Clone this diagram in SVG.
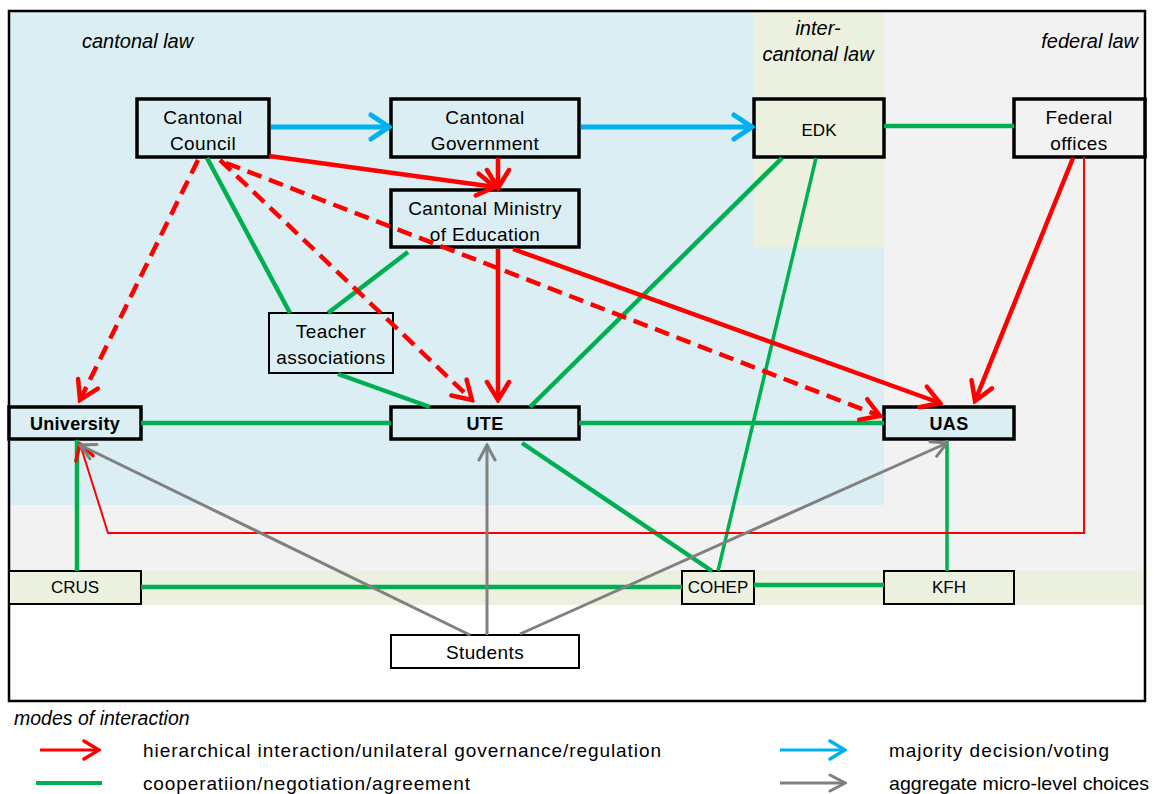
<svg xmlns="http://www.w3.org/2000/svg" width="1154" height="794" viewBox="0 0 1154 794">
<defs>
<style>
text{font-family:"Liberation Sans",Arial,sans-serif;fill:#000;}
.lbl{font-size:19px;text-anchor:middle;letter-spacing:0.4px;}
.sm{font-size:17px;letter-spacing:0;}
.b{font-weight:bold;font-size:18px;letter-spacing:0.3px;}
.it{font-style:italic;font-size:20px;}
.leg{font-size:19px;}
.box{stroke:#000;stroke-width:3.5;}
.thin{stroke:#000;stroke-width:2;}
.g{stroke:#00b050;stroke-width:4.5;fill:none;}
.r{stroke:#ff0000;stroke-width:4.5;fill:none;}
.rd{stroke:#ff0000;stroke-width:4.5;fill:none;stroke-dasharray:15 8;}
.rt{stroke:#ff0000;stroke-width:2;fill:none;}
.bl{stroke:#00b0f0;stroke-width:5;fill:none;}
.gr{stroke:#808080;stroke-width:3;fill:none;}
</style>
<marker id="mr" viewBox="0 0 24 28" refX="21" refY="14" markerWidth="24" markerHeight="28" markerUnits="userSpaceOnUse" orient="auto"><path d="M3,3 L21,14 L3,25" fill="none" stroke="#ff0000" stroke-width="4.5" stroke-linecap="round"/></marker>
<marker id="mrt" viewBox="0 0 20 24" refX="18" refY="12" markerWidth="20" markerHeight="24" markerUnits="userSpaceOnUse" orient="auto"><path d="M3,3 L18,12 L3,21" fill="none" stroke="#ff0000" stroke-width="3.5" stroke-linecap="round"/></marker>
<marker id="mbt" viewBox="0 0 20 24" refX="18" refY="12" markerWidth="20" markerHeight="24" markerUnits="userSpaceOnUse" orient="auto"><path d="M3,3 L18,12 L3,21" fill="none" stroke="#00b0f0" stroke-width="3.5" stroke-linecap="round"/></marker>
<marker id="mb" viewBox="0 0 24 30" refX="21" refY="15" markerWidth="24" markerHeight="30" markerUnits="userSpaceOnUse" orient="auto"><path d="M3,3 L21,15 L3,27" fill="none" stroke="#00b0f0" stroke-width="5" stroke-linecap="round"/></marker>
<marker id="mg" viewBox="0 0 20 22" refX="18" refY="11" markerWidth="20" markerHeight="22" markerUnits="userSpaceOnUse" orient="auto"><path d="M3,3 L18,11 L3,19" fill="none" stroke="#808080" stroke-width="3" stroke-linecap="round"/></marker>
</defs>
<rect width="1154" height="794" fill="#fff"/>
<g id="regions">
<rect x="9" y="11" width="1136" height="594" fill="#f2f2f2"/>
<rect x="9" y="11" width="875" height="494" fill="#daeef3"/>
<rect x="754" y="11" width="130" height="236" fill="#ebf1de"/>
<rect x="9" y="571" width="1136" height="34" fill="#ebf1de"/>
<rect x="9" y="11" width="1136" height="690" fill="none" stroke="#000" stroke-width="2.5"/>
<text class="it" x="82" y="48">cantonal law</text>
<text class="it" x="818" y="35" text-anchor="middle">inter-</text>
<text class="it" x="818" y="61" text-anchor="middle">cantonal law</text>
<text class="it" x="1138" y="48" text-anchor="end">federal law</text>
</g>
<g id="council"><rect class="box" x="137" y="99" width="132" height="58" fill="#daeef3"/><text class="lbl" x="203" y="124">Cantonal</text><text class="lbl" x="203" y="150">Council</text></g>
<g id="government"><rect class="box" x="391" y="99" width="188" height="58" fill="#daeef3"/><text class="lbl" x="485" y="124">Cantonal</text><text class="lbl" x="485" y="150">Government</text></g>
<g id="ministry"><rect class="box" x="391" y="190" width="188" height="57" fill="#daeef3"/><text class="lbl" x="485" y="215">Cantonal Ministry</text><text class="lbl" x="485" y="241">of Education</text></g>
<g id="edk"><rect class="box" x="754" y="99" width="130" height="58" fill="#ebf1de"/><text class="lbl sm" x="819" y="136">EDK</text></g>
<g id="federal"><rect class="box" x="1014" y="99" width="131" height="58" fill="#f2f2f2"/><text class="lbl" x="1079" y="124">Federal</text><text class="lbl" x="1079" y="150">offices</text></g>
<g id="teacher"><rect class="thin" x="269" y="313" width="124" height="60" fill="#daeef3"/><text class="lbl" x="331" y="338">Teacher</text><text class="lbl" x="331" y="364">associations</text></g>
<g id="university"><rect class="box" x="9" y="407" width="132" height="32" fill="#daeef3"/><text class="lbl b" x="75" y="430">University</text></g>
<g id="ute"><rect class="box" x="391" y="407" width="188" height="32" fill="#daeef3"/><text class="lbl b" x="485" y="430">UTE</text></g>
<g id="uas"><rect class="box" x="884" y="407" width="130" height="32" fill="#daeef3"/><text class="lbl b" x="949" y="430">UAS</text></g>
<g id="crus"><rect class="thin" x="9" y="571" width="132" height="33" fill="#ebf1de"/><text class="lbl sm" x="75" y="593">CRUS</text></g>
<g id="cohep"><rect class="thin" x="682" y="571" width="72" height="33" fill="#ebf1de"/><text class="lbl sm" x="718" y="593">COHEP</text></g>
<g id="kfh"><rect class="thin" x="884" y="571" width="130" height="33" fill="#ebf1de"/><text class="lbl sm" x="949" y="593">KFH</text></g>
<g id="students"><rect class="thin" x="391" y="635" width="188" height="33" fill="#fff"/><text class="lbl" x="485" y="659">Students</text></g>
<g id="connectors">
<line class="g" x1="884" y1="126" x2="1014" y2="126"/>
<line class="g" x1="207" y1="158" x2="290" y2="313"/>
<line class="g" x1="408" y1="252" x2="328" y2="313"/>
<line class="g" x1="338" y1="374" x2="430" y2="407"/>
<line class="g" x1="141" y1="423" x2="391" y2="423"/>
<line class="g" x1="579" y1="423" x2="884" y2="423"/>
<line class="g" x1="530" y1="407" x2="782" y2="158"/>
<line class="g" x1="816" y1="158" x2="718" y2="571" style="stroke-width:3.5"/>
<line class="g" x1="522" y1="443" x2="712" y2="571"/>
<line class="g" x1="77" y1="440" x2="77" y2="571"/>
<line class="g" x1="141" y1="587" x2="682" y2="587"/>
<line class="g" x1="754" y1="585" x2="884" y2="585"/>
<line class="g" x1="947" y1="440" x2="947" y2="571" style="stroke-width:3.5"/>
<line class="bl" x1="271" y1="127" x2="389" y2="127" marker-end="url(#mb)"/>
<line class="bl" x1="581" y1="127" x2="752" y2="127" marker-end="url(#mb)"/>
<line class="r" x1="269" y1="156" x2="495" y2="187" marker-end="url(#mr)"/>
<line class="r" x1="498" y1="158" x2="498" y2="188" marker-end="url(#mr)"/>
<line class="r" x1="498" y1="249" x2="498" y2="400" marker-end="url(#mr)"/>
<line class="r" x1="513" y1="249" x2="940" y2="403" marker-end="url(#mr)"/>
<line class="r" x1="1073" y1="158" x2="975" y2="401" marker-end="url(#mr)"/>
<line class="rd" x1="198" y1="160" x2="80" y2="400" marker-end="url(#mr)"/>
<line class="rd" x1="220" y1="160" x2="472" y2="400" marker-end="url(#mr)"/>
<line class="rd" x1="226" y1="163" x2="880" y2="416" marker-end="url(#mr)"/>
<polyline class="rt" points="1084,157 1084,533 108,533 80,444" marker-end="url(#mrt)"/>
<line class="gr" x1="487" y1="635" x2="487" y2="445" marker-end="url(#mg)"/>
<line class="gr" x1="470" y1="635" x2="80" y2="445" marker-end="url(#mg)"/>
<line class="gr" x1="520" y1="634" x2="947" y2="443" marker-end="url(#mg)"/>
</g>
<g id="legend">
<text class="it" x="14" y="725" style="font-size:19.5px">modes of interaction</text>
<line x1="40" y1="750" x2="99" y2="750" stroke="#ff0000" stroke-width="3" marker-end="url(#mrt)"/>
<text class="leg" x="143" y="757" textLength="518" lengthAdjust="spacing">hierarchical interaction/unilateral governance/regulation</text>
<line x1="36" y1="783" x2="102" y2="783" stroke="#00b050" stroke-width="4"/>
<text class="leg" x="143" y="790" textLength="327" lengthAdjust="spacing">cooperatiion/negotiation/agreement</text>
<line x1="780" y1="750" x2="845" y2="750" stroke="#00b0f0" stroke-width="3" marker-end="url(#mbt)"/>
<text class="leg" x="889" y="757" textLength="220" lengthAdjust="spacing">majority decision/voting</text>
<line x1="780" y1="783" x2="845" y2="783" stroke="#808080" stroke-width="3" marker-end="url(#mg)"/>
<text class="leg" x="889" y="790" textLength="260" lengthAdjust="spacingAndGlyphs">aggregate micro-level choices</text>
</g>
</svg>
